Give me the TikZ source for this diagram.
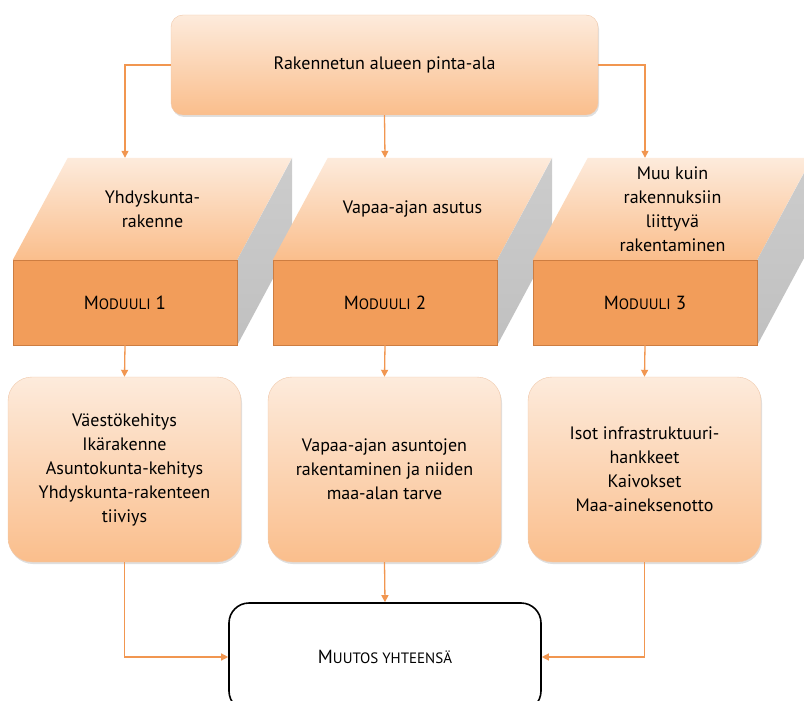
\documentclass[tikz,border=0pt]{standalone}
\usepackage{fontspec}
\setmainfont{PT Sans}
\usetikzlibrary{arrows.meta, positioning, shadows, backgrounds}
\definecolor{peachlight}{RGB}{253,235,220}
\definecolor{peachdark}{RGB}{250,190,140}
\definecolor{peachline}{RGB}{240,200,170}
\definecolor{modorange}{RGB}{242,157,90}
\definecolor{modline}{RGB}{205,125,65}
\definecolor{sidegray}{RGB}{192,192,192}
\definecolor{linkorange}{RGB}{241,150,80}
\newcommand{\smallcap}[1]{{\fontsize{15}{17}\selectfont #1}}

\begin{document}
\begin{tikzpicture}[x=1pt,y=-1pt,font=\fontsize{18}{24}\selectfont,
  topbox/.style={draw=peachline,rounded corners=12pt,top color=peachlight,bottom color=peachdark,
    minimum width=427pt,minimum height=100pt,drop shadow={opacity=0.25,shadow xshift=1pt,shadow yshift=-2pt}},
  modbox/.style={draw=modline,fill=modorange,minimum width=224pt,minimum height=85pt,font=\fontsize{19}{24}\selectfont},
  infobox/.style={draw=peachline,rounded corners=24pt,top color=peachlight,bottom color=peachdark,
    minimum width=233pt,minimum height=185pt,align=center,drop shadow={opacity=0.25,shadow xshift=1pt,shadow yshift=-2pt}},
  sumbox/.style={draw=black,line width=1.6pt,rounded corners=20pt,fill=white,minimum width=312pt,minimum height=108pt,font=\fontsize{19}{24}\selectfont},
  facetext/.style={align=center},
  link/.style={draw=linkorange,line width=1.3pt,-{Triangle[length=7pt,width=7pt]}}]
\useasboundingbox (0,0) rectangle (804,701);
\clip (0,0) rectangle (804,701);

% Top box
\node[topbox] (top) at (384.5,65) {Rakennetun alueen pinta-ala};

% Modules
\node[modbox] (m1) at (125,302.5) {M\smallcap{ODUULI} 1};
\node[modbox] (m2) at (385,302.5) {M\smallcap{ODUULI} 2};
\node[modbox] (m3) at (645,302.5) {M\smallcap{ODUULI} 3};

\begin{scope}[on background layer]
\foreach \m in {m1,m2,m3}{
  \path[top color=peachlight,bottom color=peachdark]
    (\m.north west) -- ++(55,-102) coordinate (\m-top) -- ++(224,0) -- (\m.north east) -- cycle;
  \path[top color=sidegray!80,bottom color=sidegray] (\m.north east) -- ++(55,-102) -- ++(0,85) -- (\m.south east) -- cycle;
}
\end{scope}

\node[facetext] (f1) at (152.5,209) {Yhdyskunta-\\rakenne};
\node[facetext] (f2) at (412.5,209) {Vapaa-ajan asutus};
\node[facetext] (f3) at (672.5,209) {Muu kuin\\rakennuksiin\\liittyvä\\rakentaminen};

% Details
\node[infobox] (i1) at (124.5,469.5) {Väestökehitys\\Ikärakenne\\Asuntokunta-kehitys\\Yhdyskunta-rakenteen\\tiiviys};
\node[infobox] (i2) at (384.5,469.5) {Vapaa-ajan asuntojen\\rakentaminen ja niiden\\maa-alan tarve};
\node[infobox] (i3) at (644.5,469.5) {Isot infrastruktuuri-\\hankkeet\\Kaivokset\\Maa-aineksenotto};

% Total
\node[sumbox] (sum) at (385,657) {M\smallcap{UUTOS YHTEENSÄ}};

% Arrows
\draw[link] (top.west) -| (m1.north |- m1-top);
\draw[link] (top.south) -- (m2.north |- m2-top);
\draw[link] (top.east) -| (m3.north |- m3-top);
\draw[link] (m1.south) -- (i1.north);
\draw[link] (m2.south) -- (i2.north);
\draw[link] (m3.south) -- (i3.north);
\draw[link] (i1.south) |- (sum.west);
\draw[link] (i2.south) -- (sum.north);
\draw[link] (i3.south) |- (sum.east);
\end{tikzpicture}
\end{document}
